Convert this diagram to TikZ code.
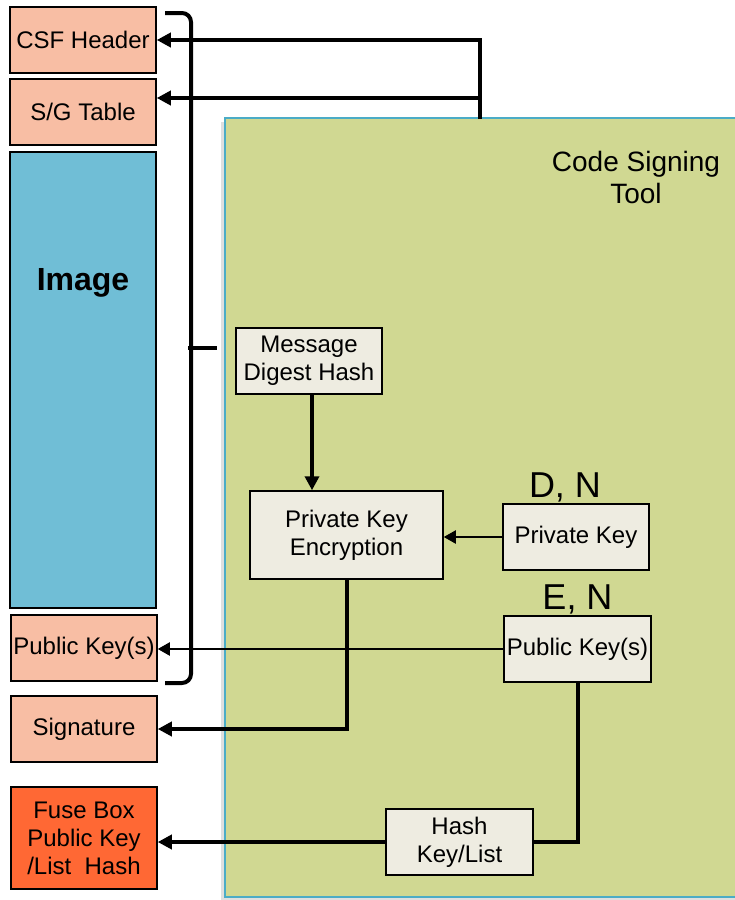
\documentclass[tikz,border=0pt]{standalone}
\usepackage{fontspec}
\setmainfont{Liberation Sans}
\usepackage{xcolor}
\usepackage{tikz}
\usetikzlibrary{arrows.meta, positioning, shadows}
\definecolor{fieldpink}{RGB}{248,190,164}
\definecolor{imageblue}{RGB}{112,190,214}
\definecolor{fuseorange}{RGB}{255,104,52}
\definecolor{toolgreen}{RGB}{208,216,146}
\definecolor{tooledge}{RGB}{75,172,198}
\definecolor{boxtan}{RGB}{238,236,225}
\tikzstyle{field} = [rectangle, draw=black, line width=1.5pt, fill=fieldpink, minimum width=146pt, minimum height=66pt, inner sep=0pt, align=center, font=\fontsize{24}{28}\selectfont]
\tikzstyle{stepbox} = [rectangle, draw=black, line width=1.5pt, fill=boxtan, minimum width=146pt, minimum height=66pt, inner sep=0pt, align=center, font=\fontsize{24}{28}\selectfont]
\tikzstyle{keylabel} = [inner sep=0pt, font=\fontsize{36}{40}\selectfont]
\tikzstyle{arrow} = [line width=4pt, -{Triangle[length=14pt,width=14pt]}]
\tikzstyle{thinarrow} = [line width=2pt, -{Triangle[length=12pt,width=13pt]}]

\begin{document}
\begin{tikzpicture}[
    x=1pt, y=-1pt,
    brace/.style={line width=4pt, rounded corners=9pt},
    toolarea/.style={draw=tooledge, line width=2pt, fill=toolgreen, anchor=north west,
        drop shadow={shadow xshift=-4pt, shadow yshift=-4pt, opacity=0.25}}
]
\useasboundingbox (0,0) rectangle (735,900);

% Signing tool area
\node (tool) [toolarea, minimum width=530pt, minimum height=779pt] at (224,117) {};
\node (tooltitle) [align=center, font=\fontsize{28}{32}\selectfont] at (636,177) {Code Signing\\Tool};

% Image layout
\node (csf) [field] at (83,40) {CSF Header};
\node (sgtable) [field] at (83,112) {S/G Table};
\node (image) [field, fill=imageblue, minimum height=456pt] at (83,380) {};
\node (imagetitle) [font=\fontsize{32}{36}\selectfont\bfseries] at (83,283) {Image};
\node (pubkeys) [field] at (84,648) {Public Key(s)};
\node (signature) [field] at (84,729) {Signature};
\node (fusebox) [field, fill=fuseorange, minimum height=102pt] at (84,838) {Fuse Box\\Public Key\\/List\ \ Hash};

% Tool steps
\node (digest) [stepbox] at (309,361) {Message\\Digest Hash};
\node (encrypt) [stepbox, minimum width=193pt, minimum height=88pt] at (346.5,535) {Private Key\\Encryption};
\node (privkey) [stepbox] at (576,537) {Private Key};
\node (pubkey) [stepbox, minimum width=147pt] at (577.5,649) {Public Key(s)};
\node (hashkey) [stepbox, minimum width=147pt] at (459.5,842) {Hash\\Key/List};
\node (dn) [keylabel, above=1pt of privkey, xshift=-11pt] {D, N};
\node (en) [keylabel, above=1pt of pubkey] {E, N};

% Brace over the signed region
\draw [brace] (165,13) -- (191,13) -- (191,683) -- (165,683);
\draw [line width=4pt] (188,348) -- (217,348);

% Arrows
\coordinate (tap) at (480,119);
\coordinate (sgtap) at (480,98);
\draw [arrow] (tap) |- (csf.east);
\draw [arrow] (sgtap) -- (sgtap -| sgtable.east);
\draw [arrow] ([xshift=3pt]digest.south) -- ([xshift=3pt]digest.south |- encrypt.north);
\draw [thinarrow] (privkey.west) -- (privkey.west -| encrypt.east);
\draw [thinarrow] (pubkey.west) -- (pubkey.west -| pubkeys.east);
\draw [arrow] (encrypt.south) |- (signature.east);
\draw [line width=4pt] (pubkey.south) |- (hashkey.east);
\draw [arrow] (hashkey.west) -- (hashkey.west -| fusebox.east);

\end{tikzpicture}
\end{document}
